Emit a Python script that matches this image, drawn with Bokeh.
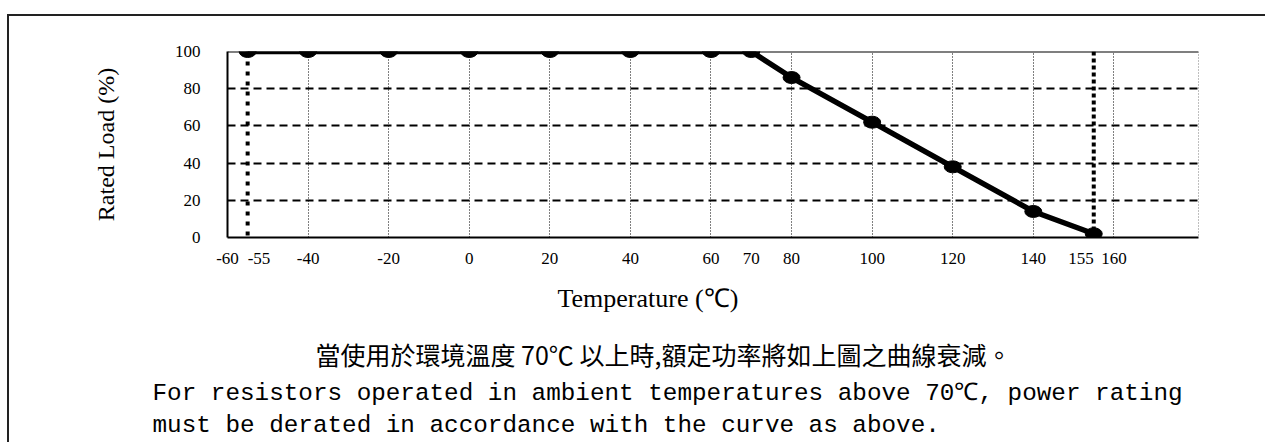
from bokeh.plotting import figure
from bokeh.models import Range1d, FixedTicker, Span, Label, Title, CustomJSTickFormatter
from bokeh.embed import file_html
from bokeh.resources import INLINE

# ---------------- data ----------------
temperature = [-55, -40, -20, 0, 20, 40, 60, 70, 80, 100, 120, 140, 155]
rated_load = [100, 100, 100, 100, 100, 100, 100, 100, 86, 62, 38, 14, 2]

x_tick_values = [-60, -40, -20, 0, 20, 40, 60, 70, 80, 100, 120, 140, 160]
x_grid_values = [-40, -20, 0, 20, 40, 60, 80, 100, 120, 140, 160]
limit_temps = [-55, 155]
y_tick_values = [0, 20, 40, 60, 80, 100]
y_grid_values = [20, 40, 60, 80]
x_start, x_end = -60, 181
y_start, y_end = 0, 100

y_title = "Rated Load (%)"
x_title = "Temperature (\u2103)"
note_zh = "當使用於環境溫度 70\u2103 以上時,額定功率將如上圖之曲線衰減。"
note_en_1 = "For resistors operated in ambient temperatures above 70\u2103, power rating"
note_en_2 = "must be derated in accordance with the curve as above."

# ---------------- figure ----------------
SERIF = "Liberation Serif"
MONO = "Liberation Mono"
CJK = "Noto Sans CJK TC"

p = figure(width=1258, height=428, output_backend="svg", toolbar_location=None, tools="",
           x_range=Range1d(x_start, x_end), y_range=Range1d(y_start, y_end),
           min_border_left=218, min_border_right=69, min_border_top=35, min_border_bottom=207)
# outer box: only its top and left edges fall inside the window
p.styles = {"box-shadow": "-2px -2px 0px 0px #222222", "margin-top": "16px", "margin-left": "9px",
            "vertical-align": "top"}
p.outline_line_color = None
p.background_fill_color = "white"
p.border_fill_color = "white"

# axes
for ax in (p.xaxis, p.yaxis):
    ax.major_tick_line_color = None
    ax.minor_tick_line_color = None
    ax.major_tick_out = 0
    ax.major_tick_in = 0
    ax.axis_line_color = "black"
    ax.axis_line_width = 2
    ax.major_label_text_font = SERIF
    ax.major_label_text_font_size = "17px"
    ax.major_label_text_color = "black"
    ax.formatter = CustomJSTickFormatter(code="return String(tick)")

p.yaxis.ticker = FixedTicker(ticks=y_tick_values)
p.yaxis.major_label_standoff = 27
p.yaxis.axis_label = y_title
p.yaxis.axis_label_text_font = SERIF
p.yaxis.axis_label_text_font_size = "24px"
p.yaxis.axis_label_text_font_style = "normal"
p.yaxis.axis_label_text_color = "black"
p.yaxis.axis_label_standoff = 53

p.xaxis.ticker = FixedTicker(ticks=x_tick_values)
p.xaxis.major_label_standoff = 15

# grids
p.xgrid.ticker = FixedTicker(ticks=x_grid_values)
p.xgrid.grid_line_color = "black"
p.xgrid.grid_line_width = 1
p.xgrid.grid_line_dash = "1 2"
p.ygrid.ticker = FixedTicker(ticks=y_grid_values)
p.ygrid.grid_line_color = "black"
p.ygrid.grid_line_width = 1.8
p.ygrid.grid_line_dash = "8 5"

# frame: solid top edge, dotted right edge
p.add_layout(Span(location=y_end, dimension="width", line_color="black", line_width=2))
p.add_layout(Span(location=x_end, dimension="height", line_color="black", line_width=1, line_dash="1 2"))

# operating-limit dotted lines
for t, dash in zip(limit_temps, ["4 6", "4 3"]):
    p.add_layout(Span(location=t, dimension="height", line_color="black", line_width=4, line_dash=dash))

# derating curve
p.line(temperature, rated_load, line_width=5.5, line_color="black")
p.ellipse(x=temperature, y=rated_load, width=17, height=12, width_units="screen", height_units="screen",
          fill_color="black", line_color="black")

# texts below the chart
def note(text, font, size, offset, standoff):
    p.add_layout(Title(text=text, align="left", offset=offset, standoff=standoff, text_font=font,
                       text_font_size=size, text_font_style="normal", text_color="black"), "below")

note(x_title, SERIF, "26px", 330, 31)
note(note_zh, CJK, "25px", 88, 11)
note(note_en_1, MONO, "24.3px", -75, 0)
note(note_en_2, MONO, "24.3px", -75, 7)

# tick labels for the limit temperatures (kept in a side panel so they are not clipped to the frame)
for t, align in zip(limit_temps, ["left", "right"]):
    p.add_layout(Label(x=t, y=y_start, text=str(t), text_align=align, text_baseline="top", y_offset=-15,
                       text_font=SERIF, text_font_size="17px", text_color="black"), "right")

open("out.html", "w").write(file_html(p, INLINE))
